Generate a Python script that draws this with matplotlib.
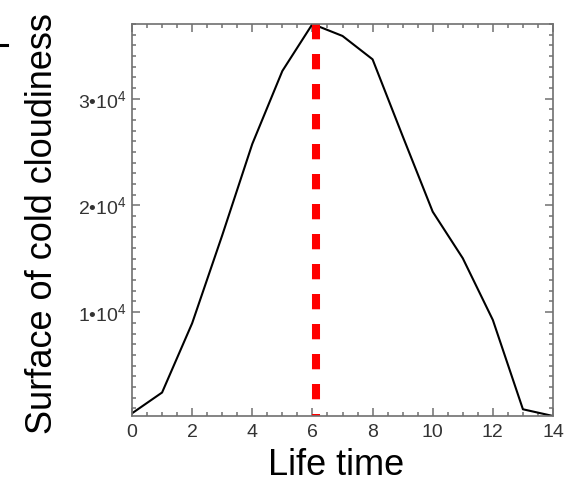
import matplotlib
matplotlib.use("Agg")
import matplotlib.pyplot as plt
from matplotlib.ticker import MultipleLocator, FixedLocator, FixedFormatter
from matplotlib.transforms import Bbox
from matplotlib.lines import Line2D

plt.rcParams['font.family'] = ['Liberation Sans', 'DejaVu Sans']
plt.rcParams['mathtext.fontset'] = 'custom'
plt.rcParams['mathtext.rm'] = 'Liberation Sans'
plt.rcParams['mathtext.it'] = 'Liberation Sans:italic'
plt.rcParams['lines.scale_dashes'] = False

# Cloud surface as a function of life time
life_time = [0, 1, 2, 3, 4, 5, 6, 7, 8, 9, 10, 11, 12, 13, 14]
surface = [520, 2470, 8960, 17200, 25760, 32600, 37000, 35880, 33690,
           26500, 19410, 15050, 9265, 900, 270]
mean_life_time = 6.13

x_ticks = [0, 2, 4, 6, 8, 10, 12, 14]
y_ticks = [10000, 20000, 30000]
y_tick_labels = [r'1•$10^{4}$', r'2•$10^{4}$', r'3•$10^{4}$']

W, H = 566, 483
fig = plt.figure(figsize=(W / 100, H / 100), dpi=100)
ax = fig.add_axes([132 / W, 1 - 416 / H, (553 - 132) / W, (416 - 24) / H])

ax.plot(life_time, surface, color='black', lw=1.5)
ymin, ymax = min(surface), max(surface)
ax.plot([mean_life_time, mean_life_time], [ymax, ymin], color='#ff0000',
        lw=5.8, dashes=(11, 10.6))

ax.set_xlim(0, 14)
ax.set_ylim(ymin, ymax)

ax.xaxis.set_major_locator(FixedLocator(x_ticks))
ax.xaxis.set_minor_locator(MultipleLocator(0.5))
ax.yaxis.set_major_locator(FixedLocator(y_ticks))
ax.yaxis.set_major_formatter(FixedFormatter(y_tick_labels))
ax.yaxis.set_minor_locator(MultipleLocator(1000))

spine_col = '#707070'
for s in ax.spines.values():
    s.set_color(spine_col)
    s.set_linewidth(1.2)

ax.tick_params(which='both', direction='in', top=True, right=True,
               color=spine_col, width=1.1, labelcolor='#333333',
               labelsize=14)
ax.tick_params(which='major', length=5.8)
ax.tick_params(which='minor', length=2.9)
ax.tick_params(axis='x', pad=6.0)
ax.tick_params(axis='y', pad=3.6)

fig.text(336 / W, 1 - 475 / H, 'Life time', fontsize=26, ha='center',
         va='baseline', color='black')
fig.text(52 / W, 1 - 224 / H, 'Surface of cold cloudiness', fontsize=26,
         rotation=90, rotation_mode='anchor', ha='center', va='baseline',
         color='black')

# small fragment at the upper left edge
fig.add_artist(Line2D([0, 7 / W], [1 - 44.7 / H, 1 - 44.7 / H],
                      transform=fig.transFigure, color='black', lw=2.2))

fig.canvas.draw()
clip = Bbox([[0, H - 441], [W, H]])
for t in ax.get_xticklabels():
    t.set_clip_box(clip)
    t.set_clip_on(True)

fig.savefig('out.png', dpi=100)
